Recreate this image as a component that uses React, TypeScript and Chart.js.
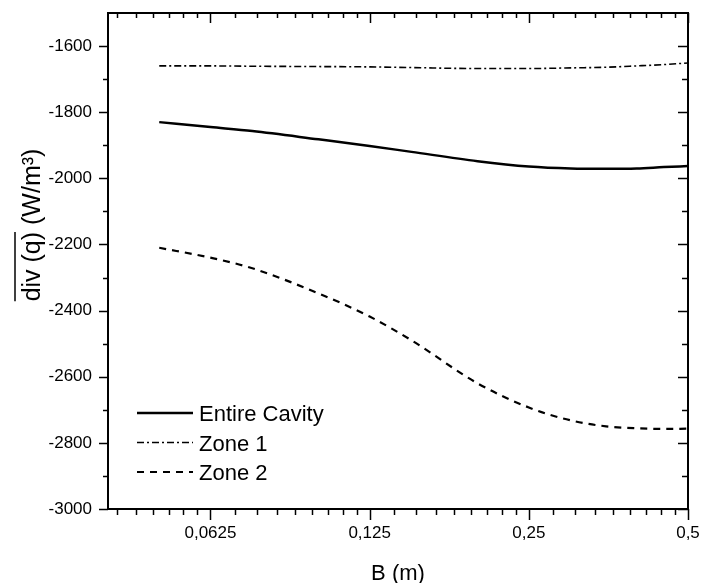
import React, { useEffect, useRef } from "react";
import { Chart, registerables } from "chart.js";

Chart.register(...registerables);

// ---- data ----
const bValues = [0.05, 0.0625, 0.075, 0.1, 0.125, 0.15, 0.2, 0.25, 0.3, 0.35, 0.4, 0.45, 0.5];
const entireCavity = [-1830, -1845, -1857, -1882, -1902, -1920, -1948, -1964, -1970, -1971, -1970, -1966, -1963];
const zone1 = [-1660, -1660, -1661, -1662, -1663, -1665, -1668, -1668, -1666, -1664, -1660, -1656, -1651];
const zone2 = [-2210, -2240, -2272, -2348, -2418, -2490, -2620, -2693, -2732, -2750, -2756, -2758, -2757];
const seriesNames = ["Entire Cavity", "Zone 1", "Zone 2"];

const xTickValues = [0.0625, 0.125, 0.25, 0.5];
const xTickBases = [0.03125, 0.0625, 0.125, 0.25];
const yTickValues = [-3000, -2800, -2600, -2400, -2200, -2000, -1800, -1600];
const yMinorTickValues = [-2900, -2700, -2500, -2300, -2100, -1900, -1700];
const xAxisTitle = "B (m)";
const yAxisTitleOver = "div (q)";
const yAxisTitleRest = " (W/m³)";

const FONT = '"Liberation Sans", Arial, sans-serif';

const CW = 693;
const CH = 575;

const dashStyles: number[][] = [[], [7, 3, 2, 3], [7, 6]];
const widths = [2.5, 1.6, 2.2];

const zeroPad = (scale: any) => {
  scale.paddingTop = 0;
  scale.paddingBottom = 0;
  scale.paddingLeft = 0;
  scale.paddingRight = 0;
};

const framePlugin = {
  id: "frameTicks",
  afterDraw(chart: any) {
    const { ctx, chartArea: a, scales } = chart;
    const xs = scales.x;
    const ys = scales.y;
    ctx.save();
    ctx.strokeStyle = "#000";
    ctx.setLineDash([]);
    ctx.lineWidth = 2;
    ctx.strokeRect(a.left, a.top, a.right - a.left, a.bottom - a.top);
    ctx.lineWidth = 1.5;
    const seg = (x1: number, y1: number, x2: number, y2: number) => {
      ctx.beginPath();
      ctx.moveTo(x1, y1);
      ctx.lineTo(x2, y2);
      ctx.stroke();
    };
    for (const v of xTickValues) {
      const p = Math.round(xs.getPixelForValue(v)) + 0.5;
      seg(p, a.bottom, p, a.bottom + 11);
      seg(p, a.top, p, a.top + 10);
    }
    for (const m of xTickBases) {
      for (let k = 1; k <= 8; k++) {
        const v = m + (k * m) / 9;
        if (v < xs.min || v > xs.max) continue;
        const p = Math.round(xs.getPixelForValue(v)) + 0.5;
        seg(p, a.bottom, p, a.bottom + 6);
        seg(p, a.top, p, a.top + 5);
      }
    }
    for (const v of yTickValues) {
      const p = Math.round(ys.getPixelForValue(v)) + 0.5;
      seg(a.left - 9, p, a.left, p);
      seg(a.right - 10, p, a.right, p);
    }
    for (const v of yMinorTickValues) {
      const p = Math.round(ys.getPixelForValue(v)) + 0.5;
      seg(a.left - 5, p, a.left, p);
      seg(a.right - 6, p, a.right, p);
    }

    // legend
    ctx.font = `22px ${FONT}`;
    ctx.fillStyle = "#000";
    ctx.textAlign = "left";
    ctx.textBaseline = "alphabetic";
    const rows = [405, 434.5, 464];
    for (let i = 0; i < 3; i++) {
      ctx.lineWidth = widths[i];
      ctx.setLineDash(dashStyles[i]);
      seg(129, rows[i], 185, rows[i]);
      ctx.setLineDash([]);
      ctx.fillText(seriesNames[i], 191, rows[i] + 8);
    }

    // x title
    ctx.textAlign = "center";
    ctx.fillText(xAxisTitle, (a.left + a.right) / 2, 572);

    // y title with overline
    ctx.save();
    ctx.font = `25px ${FONT}`;
    ctx.translate(32, 217);
    ctx.rotate(-Math.PI / 2);
    const full = yAxisTitleOver + yAxisTitleRest;
    const W = ctx.measureText(full).width;
    const w1 = ctx.measureText(yAxisTitleOver).width;
    ctx.textAlign = "left";
    ctx.fillText(full, -W / 2, 0);
    ctx.lineWidth = 1.5;
    seg(-W / 2, -25, -W / 2 + w1, -25);
    ctx.restore();

    ctx.restore();
  },
};

export default function App() {
  const ref = useRef<HTMLCanvasElement | null>(null);
  useEffect(() => {
    if (!ref.current) return;
    const series = [entireCavity, zone1, zone2];
    const chart = new Chart(ref.current, {
      type: "line",
      data: {
        datasets: series.map((vals, i) => ({
          label: seriesNames[i],
          data: bValues.map((b, j) => ({ x: b, y: vals[j] })),
          borderColor: "#000",
          backgroundColor: "#000",
          borderWidth: widths[i],
          borderDash: dashStyles[i],
          pointRadius: 0,
          fill: false,
          cubicInterpolationMode: "monotone" as const,
        })),
      },
      options: {
        responsive: false,
        animation: false,
        layout: { padding: { top: 5, right: CW - 680, left: 0, bottom: 0 } },
        plugins: { legend: { display: false }, tooltip: { enabled: false } },
        scales: {
          x: {
            type: "logarithmic",
            min: 0.04,
            max: 0.5,
            grid: { display: false, drawTicks: false },
            border: { display: false },
            afterBuildTicks: (scale: any) => {
              scale.ticks = xTickValues.map((v) => ({ value: v }));
            },
            afterFit: (scale: any) => {
              scale.height = CH - 501;
              zeroPad(scale);
            },
            ticks: {
              autoSkip: false,
              maxRotation: 0,
              padding: 14,
              color: "#000",
              font: { family: FONT, size: 17 },
              callback: (v: any) => String(v).replace(".", ","),
            },
          },
          y: {
            type: "linear",
            min: -3000,
            max: -1500,
            grid: { display: false, drawTicks: false },
            border: { display: false },
            afterBuildTicks: (scale: any) => {
              scale.ticks = yTickValues.map((v) => ({ value: v }));
            },
            afterFit: (scale: any) => {
              scale.width = 100;
              zeroPad(scale);
            },
            ticks: {
              padding: 16,
              color: "#000",
              font: { family: FONT, size: 17 },
              callback: (v: any) => String(v),
            },
          },
        },
      },
      plugins: [framePlugin],
    });
    return () => chart.destroy();
  }, []);
  return (
    <div style={{ position: "fixed", left: 8, top: 8, width: CW, height: CH }}>
      <canvas ref={ref} width={CW} height={CH} style={{ display: "block" }} />
    </div>
  );
}
